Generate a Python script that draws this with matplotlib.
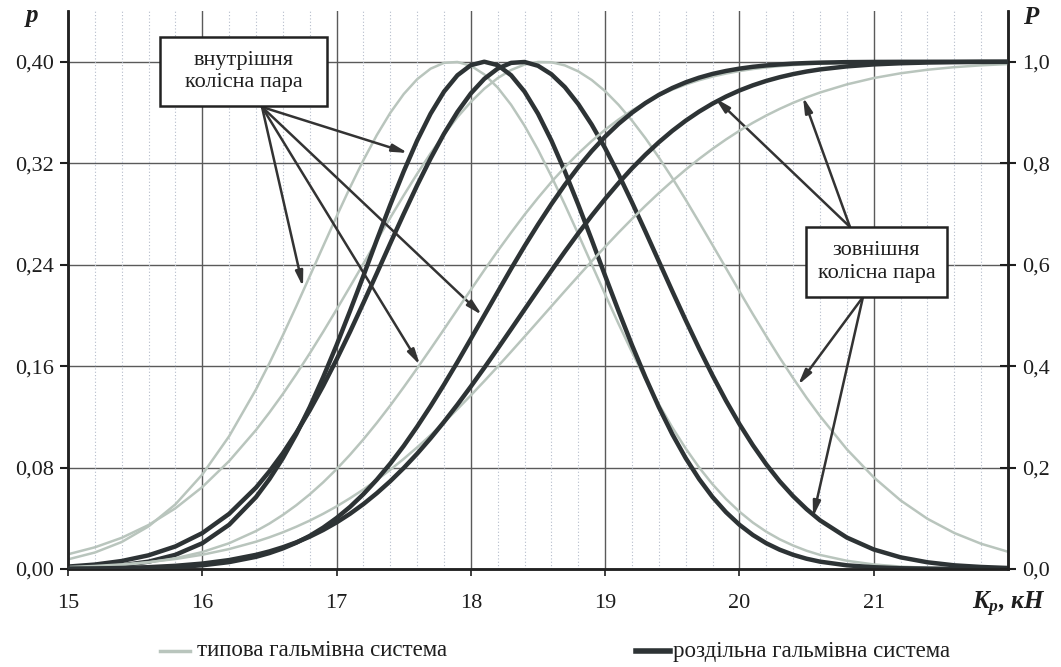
import matplotlib
matplotlib.use("Agg")
import matplotlib.pyplot as plt
from matplotlib.patches import Rectangle
from matplotlib.lines import Line2D
from matplotlib.ticker import MultipleLocator, FixedLocator

plt.rcParams['font.family'] = ['Liberation Serif', 'DejaVu Serif']
plt.rcParams['mathtext.fontset'] = 'custom'
plt.rcParams['mathtext.it'] = 'Liberation Serif:italic:bold'
plt.rcParams['mathtext.rm'] = 'Liberation Serif:bold'

# ---------------- data ----------------
x_kn = [15.0, 15.2, 15.4, 15.6, 15.8, 16.0, 16.2,
        16.4, 16.5, 16.6, 16.7, 16.8, 16.9, 17.0, 17.1, 17.2, 17.3, 17.4, 17.5, 17.6, 17.7, 17.8, 17.9,
        18.0, 18.1, 18.2, 18.3, 18.4, 18.5, 18.6, 18.7, 18.8, 18.9, 19.0, 19.1, 19.2, 19.3, 19.4, 19.5,
        19.6, 19.7, 19.8, 19.9, 20.0, 20.1, 20.2, 20.3, 20.4, 20.5, 20.6,
        20.8, 21.0, 21.2, 21.4, 21.6, 21.8, 22.0]

# typical braking system (grey): p = density (left axis), P = probability (right axis)
p_typ_inner = [0.0076, 0.0130, 0.0213, 0.0336, 0.0510, 0.0745, 0.1047,
               0.1416, 0.1623, 0.1843, 0.2072, 0.2308, 0.2545, 0.2780, 0.3008, 0.3224, 0.3422, 0.3597, 0.3745,
               0.3862, 0.3945, 0.3991, 0.3998, 0.3968, 0.3900, 0.3796, 0.3660, 0.3495, 0.3306, 0.3096, 0.2873,
               0.2640, 0.2402, 0.2165, 0.1933, 0.1710, 0.1497, 0.1299, 0.1116, 0.0950, 0.0800, 0.0668, 0.0552,
               0.0452, 0.0366, 0.0294, 0.0234, 0.0185, 0.0144, 0.0111,
               0.0065, 0.0036, 0.0019, 0.0010, 0.0005, 0.0002, 0.0001]
p_typ_outer = [0.0116, 0.0171, 0.0246, 0.0347, 0.0479, 0.0646, 0.0851,
               0.1096, 0.1234, 0.1380, 0.1536, 0.1700, 0.1870, 0.2046, 0.2226, 0.2408, 0.2590, 0.2770, 0.2946,
               0.3116, 0.3277, 0.3426, 0.3563, 0.3683, 0.3787, 0.3871, 0.3935, 0.3978, 0.3998, 0.3996, 0.3971,
               0.3924, 0.3856, 0.3768, 0.3660, 0.3536, 0.3397, 0.3245, 0.3083, 0.2912, 0.2734, 0.2554, 0.2372,
               0.2190, 0.2010, 0.1836, 0.1666, 0.1505, 0.1350, 0.1206,
               0.0944, 0.0723, 0.0541, 0.0396, 0.0284, 0.0199, 0.0136]
P_typ_inner = [0.0025, 0.0044, 0.0077, 0.0130, 0.0212, 0.0334, 0.0508,
               0.0748, 0.0896, 0.1066, 0.1257, 0.1471, 0.1708, 0.1968, 0.2252, 0.2556, 0.2881, 0.3224, 0.3584,
               0.3956, 0.4338, 0.4725, 0.5117, 0.5505, 0.5892, 0.6270, 0.6633, 0.6985, 0.7316, 0.7630, 0.7921,
               0.8191, 0.8437, 0.8660, 0.8861, 0.9039, 0.9195, 0.9332, 0.9450, 0.9551, 0.9636, 0.9708, 0.9767,
               0.9816, 0.9856, 0.9888, 0.9914, 0.9934, 0.9950, 0.9963,
               0.9980, 0.9989, 0.9995, 0.9997, 0.9999, 0.9999, 1.0]
P_typ_outer = [0.0039, 0.0060, 0.0091, 0.0135, 0.0197, 0.0281, 0.0393,
               0.0538, 0.0625, 0.0723, 0.0833, 0.0954, 0.1088, 0.1234, 0.1395, 0.1567, 0.1756, 0.1957, 0.2171,
               0.2398, 0.2638, 0.2890, 0.3152, 0.3424, 0.3704, 0.3991, 0.4284, 0.4581, 0.4880, 0.5180, 0.5479,
               0.5775, 0.6067, 0.6352, 0.6632, 0.6901, 0.7161, 0.7411, 0.7648, 0.7873, 0.8085, 0.8283, 0.8468,
               0.8639, 0.8796, 0.8940, 0.9071, 0.9190, 0.9297, 0.9393,
               0.9553, 0.9678, 0.9772, 0.9842, 0.9893, 0.9929, 0.9954]

# separate braking system (dark)
p_sep_inner = [0.0006, 0.0014, 0.0029, 0.0058, 0.0112, 0.0203, 0.0349,
               0.0567, 0.0709, 0.0874, 0.1063, 0.1276, 0.1512, 0.1765, 0.2034, 0.2312, 0.2596, 0.2872, 0.3135,
               0.3378, 0.3590, 0.3764, 0.3893, 0.3973, 0.4000, 0.3973, 0.3893, 0.3764, 0.3590, 0.3378, 0.3135,
               0.2872, 0.2596, 0.2312, 0.2034, 0.1765, 0.1512, 0.1276, 0.1063, 0.0874, 0.0709, 0.0567, 0.0448,
               0.0349, 0.0268, 0.0203, 0.0152, 0.0112, 0.0081, 0.0058,
               0.0029, 0.0014, 0.0006, 0.0003, 0.0001, 0.0000, 0.0000]
p_sep_outer = [0.0019, 0.0035, 0.0063, 0.0108, 0.0178, 0.0283, 0.0435,
               0.0642, 0.0770, 0.0913, 0.1074, 0.1251, 0.1444, 0.1652, 0.1870, 0.2099, 0.2332, 0.2568, 0.2800,
               0.3025, 0.3237, 0.3432, 0.3604, 0.3750, 0.3865, 0.3946, 0.3991, 0.3998, 0.3968, 0.3901, 0.3800,
               0.3666, 0.3504, 0.3318, 0.3112, 0.2891, 0.2661, 0.2426, 0.2191, 0.1961, 0.1738, 0.1526, 0.1327,
               0.1143, 0.0976, 0.0825, 0.0691, 0.0574, 0.0472, 0.0384,
               0.0248, 0.0154, 0.0092, 0.0053, 0.0029, 0.0016, 0.0008]
P_sep_inner = [0.0002, 0.0004, 0.0008, 0.0018, 0.0037, 0.0073, 0.0136,
               0.0240, 0.0314, 0.0406, 0.0518, 0.0653, 0.0815, 0.1005, 0.1224, 0.1476, 0.1762, 0.2078, 0.2426,
               0.2806, 0.3210, 0.3635, 0.4079, 0.4538, 0.5000, 0.5462, 0.5921, 0.6365, 0.6790, 0.7194, 0.7574,
               0.7922, 0.8238, 0.8524, 0.8776, 0.8995, 0.9185, 0.9347, 0.9482, 0.9594, 0.9686, 0.9760, 0.9818,
               0.9864, 0.9900, 0.9927, 0.9947, 0.9963, 0.9974, 0.9982,
               0.9992, 0.9996, 0.9998, 0.9999, 1.0, 1.0, 1.0]
P_sep_outer = [0.0005, 0.0010, 0.0020, 0.0036, 0.0063, 0.0107, 0.0176,
               0.0279, 0.0347, 0.0429, 0.0525, 0.0637, 0.0768, 0.0918, 0.1088, 0.1280, 0.1495, 0.1731, 0.1991,
               0.2273, 0.2577, 0.2900, 0.3241, 0.3598, 0.3966, 0.4345, 0.4729, 0.5116, 0.5502, 0.5883, 0.6257,
               0.6618, 0.6966, 0.7296, 0.7608, 0.7899, 0.8167, 0.8413, 0.8637, 0.8838, 0.9017, 0.9175, 0.9313,
               0.9433, 0.9535, 0.9622, 0.9695, 0.9756, 0.9807, 0.9848,
               0.9908, 0.9947, 0.9970, 0.9984, 0.9991, 0.9996, 0.9998]

x_ticks = [15, 16, 17, 18, 19, 20, 21]
x_tick_labels = ['15', '16', '17', '18', '19', '20', '21']
p_ticks = [0.0, 0.08, 0.16, 0.24, 0.32, 0.40]
p_tick_labels = ['0,00', '0,08', '0,16', '0,24', '0,32', '0,40']
P_ticks = [0.0, 0.2, 0.4, 0.6, 0.8, 1.0]
P_tick_labels = ['0,0', '0,2', '0,4', '0,6', '0,8', '1,0']

legend_labels = ['типова гальмівна система', 'роздільна гальмівна система']
box_inner = 'внутрішня\nколісна пара'
box_outer = 'зовнішня\nколісна пара'

# ---------------- styling ----------------
GREY = '#b9c5bd'
DARK = '#2d3335'
GRID = '#5a5a5a'
TXT = '#1e1e1e'
W, H = 1061, 667

fig = plt.figure(figsize=(W / 100, H / 100), dpi=100)
left_px, right_px, bottom_px, top_px = 68, 1008, 569, 11
ax = fig.add_axes([left_px / W, 1 - bottom_px / H, (right_px - left_px) / W, (bottom_px - top_px) / H])
ax2 = ax.twinx()

ax.set_xlim(15, 22)
ax.set_ylim(0, 0.44)
ax2.set_ylim(0, 1.1)

# grid
ax.xaxis.set_minor_locator(MultipleLocator(0.2))
ax.grid(which='minor', axis='x', color='#b4bccb', lw=0.8, ls=(0, (1, 2)), zorder=0)
for xv in range(16, 22):
    ax.axvline(xv, color=GRID, lw=1.0, zorder=0.5)
for yv in p_ticks[1:]:
    ax.axhline(yv, color=GRID, lw=1.0, zorder=0.5)

# curves: grey first, then dark
ax.plot(x_kn, p_typ_inner, color=GREY, lw=1.8, zorder=2, solid_joinstyle='round')
ax.plot(x_kn, p_typ_outer, color=GREY, lw=1.8, zorder=2, solid_joinstyle='round')
ax2.plot(x_kn, P_typ_inner, color=GREY, lw=1.8, zorder=2, solid_joinstyle='round')
ax2.plot(x_kn, P_typ_outer, color=GREY, lw=1.8, zorder=2, solid_joinstyle='round')
ax.plot(x_kn, p_sep_inner, color=DARK, lw=3.2, zorder=3, solid_joinstyle='round')
ax.plot(x_kn, p_sep_outer, color=DARK, lw=3.2, zorder=3, solid_joinstyle='round')
ax2.plot(x_kn, P_sep_inner, color=DARK, lw=3.2, zorder=3, solid_joinstyle='round')
ax2.plot(x_kn, P_sep_outer, color=DARK, lw=3.2, zorder=3, solid_joinstyle='round')

# axes / ticks
for a in (ax, ax2):
    a.spines['top'].set_visible(False)
    for s in ('left', 'right', 'bottom'):
        a.spines[s].set_linewidth(1.8)
        a.spines[s].set_color('#222222')
ax.xaxis.set_major_locator(FixedLocator(x_ticks))
ax.set_xticklabels(x_tick_labels)
ax.yaxis.set_major_locator(FixedLocator(p_ticks))
ax.set_yticklabels(p_tick_labels)
ax2.yaxis.set_major_locator(FixedLocator(P_ticks))
ax2.set_yticklabels(P_tick_labels)
ax.tick_params(axis='x', which='major', direction='out', length=5, width=1.2, labelsize=16, pad=13, colors=TXT)
ax.tick_params(axis='x', which='minor', length=0)
ax.tick_params(axis='y', direction='out', length=6, width=1.5, labelsize=16, pad=4, colors=TXT)
ax2.tick_params(axis='y', direction='inout', length=12, width=1.5, labelsize=16, pad=4, colors=TXT)

# axis captions
fig.text(32 / W, 1 - 18 / H, '$p$', fontsize=18, ha='center', va='center', color=TXT)
fig.text(1032 / W, 1 - 18 / H, '$P$', fontsize=18, ha='center', va='center', color=TXT)
fig.text(1009 / W, 1 - 604 / H, '$K_p$, кН', fontsize=18, ha='center', va='center', color=TXT,
         fontweight='bold', fontstyle='italic')

# annotation boxes (positions in data coords of p-axis)
def px2data(px, py):
    return 15 + (px - left_px) / ((right_px - left_px) / 7.0), (bottom_px - py) / ((bottom_px - top_px) / 0.44)

def box(x0px, y0px, x1px, y1px, txt):
    xa, ya = px2data(x0px, y1px)
    xb, yb = px2data(x1px, y0px)
    ax.add_patch(Rectangle((xa, ya), xb - xa, yb - ya, facecolor='white', edgecolor='#222222',
                           lw=1.8, zorder=6, clip_on=False))
    ax.text((xa + xb) / 2, (ya + yb) / 2, txt, ha='center', va='center', fontsize=16,
            linespacing=1.22, color=TXT, zorder=7)

box(160, 37, 327, 106, box_inner)
box(806, 227, 947, 297, box_outer)

def arrow(src, dst):
    s = px2data(*src)
    d = px2data(*dst)
    ax.annotate('', xy=d, xytext=s, xycoords='data', textcoords='data',
                arrowprops=dict(arrowstyle='-|>,head_length=0.9,head_width=0.22', lw=1.8,
                                color='#333333', shrinkA=0, shrinkB=0), zorder=5)

for dst in [(408, 153), (303, 287), (482, 315), (420, 365)]:
    arrow((262, 107), dst)
for dst in [(715, 98), (803, 97)]:
    arrow((850, 227), dst)
for dst in [(798, 385), (813, 517)]:
    arrow((863, 297), dst)

# legend (drawn manually below the axes)
ly = 1 - 651 / H
fig.add_artist(Line2D([160 / W, 190 / W], [ly, ly], color=GREY, lw=2.5, transform=fig.transFigure))
fig.text(197 / W, ly, legend_labels[0], fontsize=16.5, ha='left', va='center', color=TXT)
fig.add_artist(Line2D([636 / W, 670 / W], [ly, ly], color=DARK, lw=4, transform=fig.transFigure))
fig.text(673 / W, ly, legend_labels[1], fontsize=16.5, ha='left', va='center', color=TXT)

fig.savefig('out.png', dpi=100)
